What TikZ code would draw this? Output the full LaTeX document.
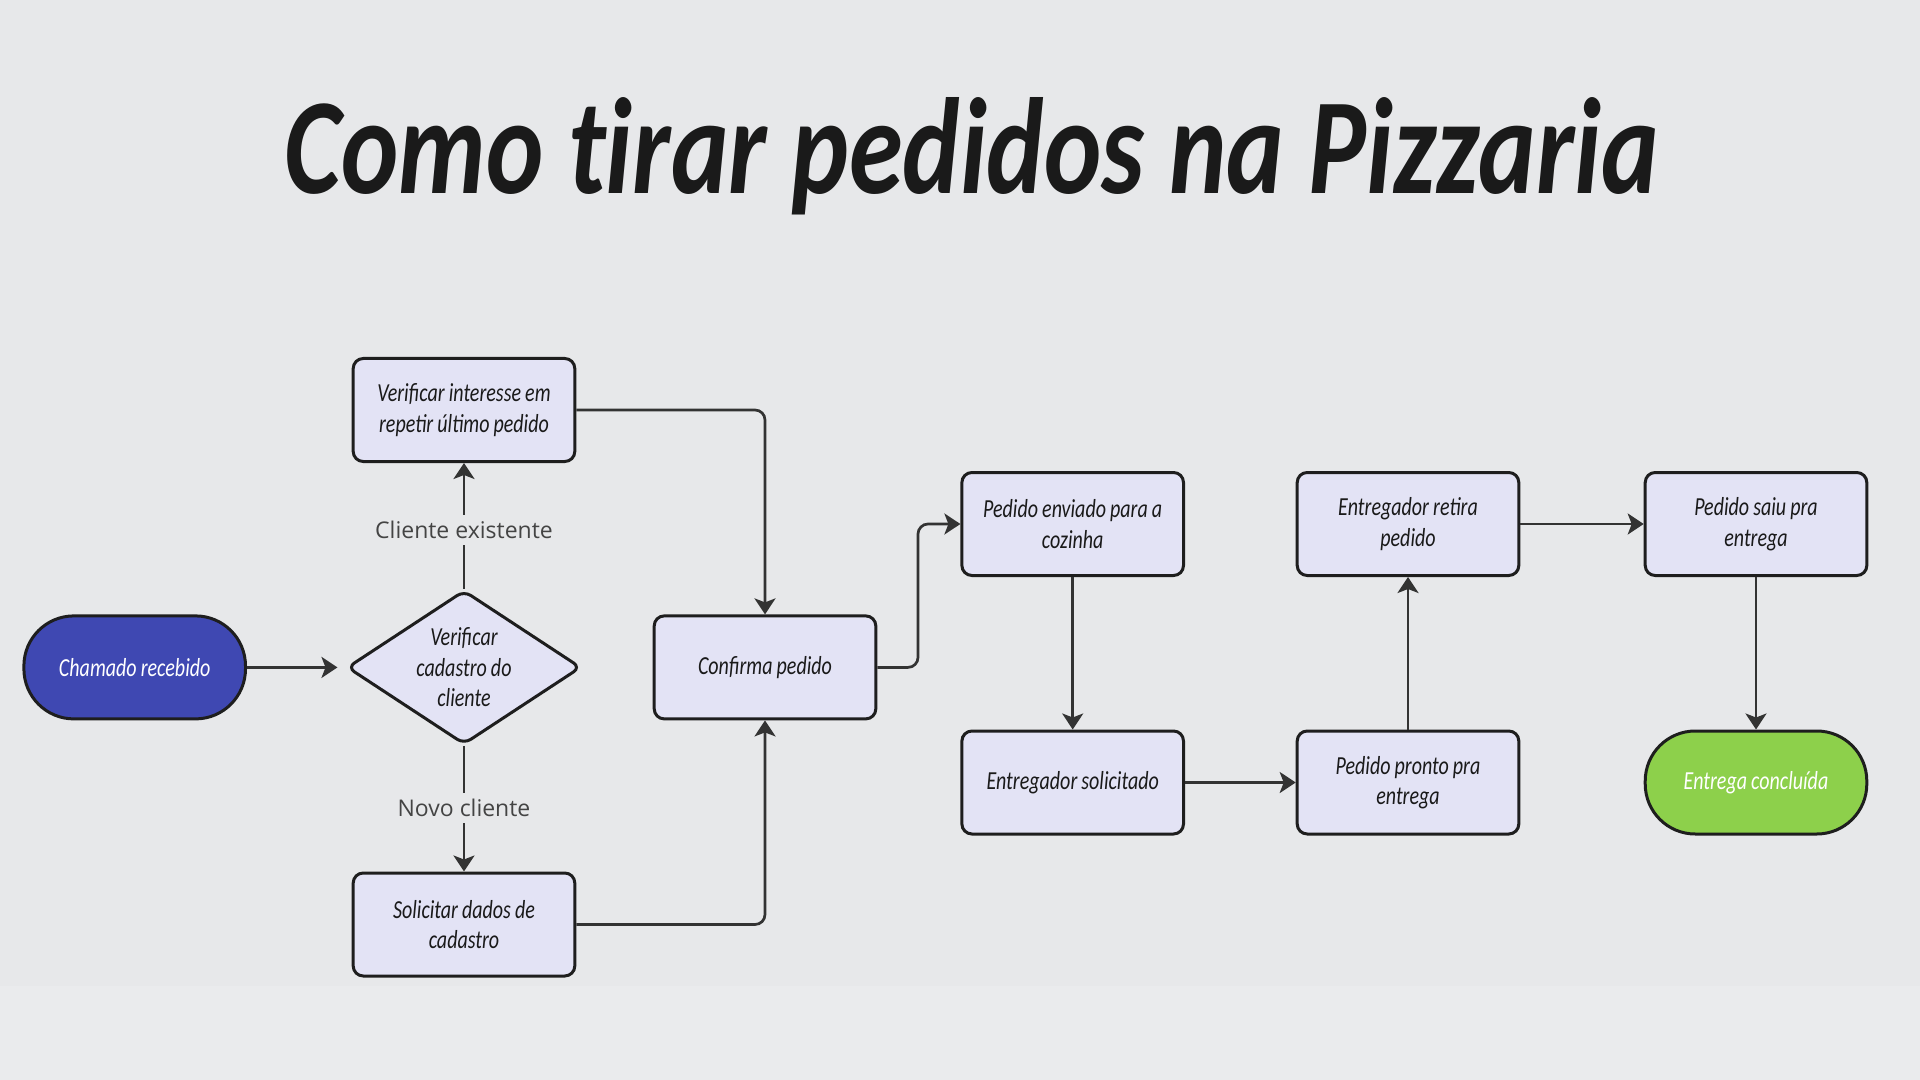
\documentclass[tikz,border=0pt]{standalone}
\usepackage{fontspec}
\usepackage{graphicx}
\usetikzlibrary{shapes.geometric,arrows.meta}
\newfontfamily\handfont[FakeStretch=0.77,WordSpace=0.9]{Carlito}
\newfontfamily\labfont{Open Sans}
\newfontfamily\titlefont[Ligatures=NoCommon]{Carlito}
\definecolor{paper}{HTML}{E7E8EA}
\definecolor{paperlow}{HTML}{EAEBED}
\definecolor{boxfill}{HTML}{E3E3F5}
\definecolor{boxline}{HTML}{1E1E1E}
\definecolor{linecol}{HTML}{333333}
\definecolor{startblue}{HTML}{3F48B2}
\definecolor{endgreen}{HTML}{8DD04B}
\definecolor{labcol}{HTML}{444444}
\definecolor{inkcol}{HTML}{1A1A1A}
\tikzset{
  stepbox/.style={draw=boxline, line width=1.5pt, fill=boxfill, rounded corners=5pt,
    minimum width=110.8pt, minimum height=51.5pt, inner sep=0pt, text width=106pt,
    align=flush center, text=inkcol, font=\handfont\itshape\fontsize{13}{15.3}\selectfont},
  termbox/.style={stepbox, rounded corners=25pt, text=white},
  decbox/.style={draw=boxline, line width=1.5pt, fill=boxfill, shape=diamond, aspect=1.52,
    minimum width=117pt, minimum height=77pt, inner sep=0pt, align=center, text=inkcol,
    rounded corners=4pt, font=\handfont\itshape\fontsize{13}{15.3}\selectfont},
  edgelab/.style={inner sep=3pt, text=labcol, font=\labfont\fontsize{11.5}{13}\selectfont},
  conn/.style={draw=linecol, line width=1.35pt, rounded corners=5pt,
    -{Stealth[length=8pt,width=10.5pt,inset=2pt]}},
  plain/.style={draw=linecol, line width=1.35pt}
}
\begin{document}
\begin{tikzpicture}[x=0.5pt,y=-0.5pt]
\useasboundingbox (0,0) rectangle (1920,1080);
\fill[paper] (0,0) rectangle (1920,986);
\fill[paperlow] (0,986) rectangle (1920,1080);

% title
\node[anchor=base, text=inkcol, inner sep=0pt] (title) at (971.6,193.5)
  {\resizebox{687pt}{48pt}{\titlefont\bfseries\itshape Como tirar pedidos na Pizzaria}};

% nodes
\node[termbox, fill=startblue] (start) at (134.7,667.4) {Chamado recebido};
\node[decbox] (dec) at (464,667.4) {Verificar\\cadastro do\\cliente};
\node[stepbox] (ver) at (464,410) {Verificar interesse em\\repetir último pedido};
\node[stepbox] (sol) at (464,924.5) {Solicitar dados de\\cadastro};
\node[stepbox] (conf) at (765,667.4) {Confirma pedido};
\node[stepbox] (env) at (1072.7,524) {Pedido enviado para a\\cozinha};
\node[stepbox] (sold) at (1072.7,782.5) {Entregador solicitado};
\node[stepbox] (ret) at (1408,524) {Entregador retira\\pedido};
\node[stepbox] (pront) at (1408,782.5) {Pedido pronto pra\\entrega};
\node[stepbox] (saiu) at (1756,524) {Pedido saiu pra\\entrega};
\node[termbox, fill=endgreen] (fim) at (1756,782.5) {Entrega concluída};

% edge labels
\node[edgelab] (lex) at (464,530) {Cliente existente};
\node[edgelab] (lnovo) at (464,808) {Novo cliente};

% connectors
\draw[conn, shorten >=4pt] (start.east) -- (dec.west);
\draw[plain] (dec.north) -- (lex.south);
\draw[conn] (lex.north) -- (ver.south);
\draw[plain] (dec.south) -- (lnovo.north);
\draw[conn] (lnovo.south) -- (sol.north);
\draw[conn] (ver.east) -| (conf.north);
\draw[conn] (sol.east) -| (conf.south);
\coordinate (bend) at (918,667.4);
\draw[conn] (conf.east) -- (bend) |- (env.west);
\draw[conn] (env.south) -- (sold.north);
\draw[conn] (sold.east) -- (pront.west);
\draw[conn] (pront.north) -- (ret.south);
\draw[conn] (ret.east) -- (saiu.west);
\draw[conn] (saiu.south) -- (fim.north);
\end{tikzpicture}
\end{document}
